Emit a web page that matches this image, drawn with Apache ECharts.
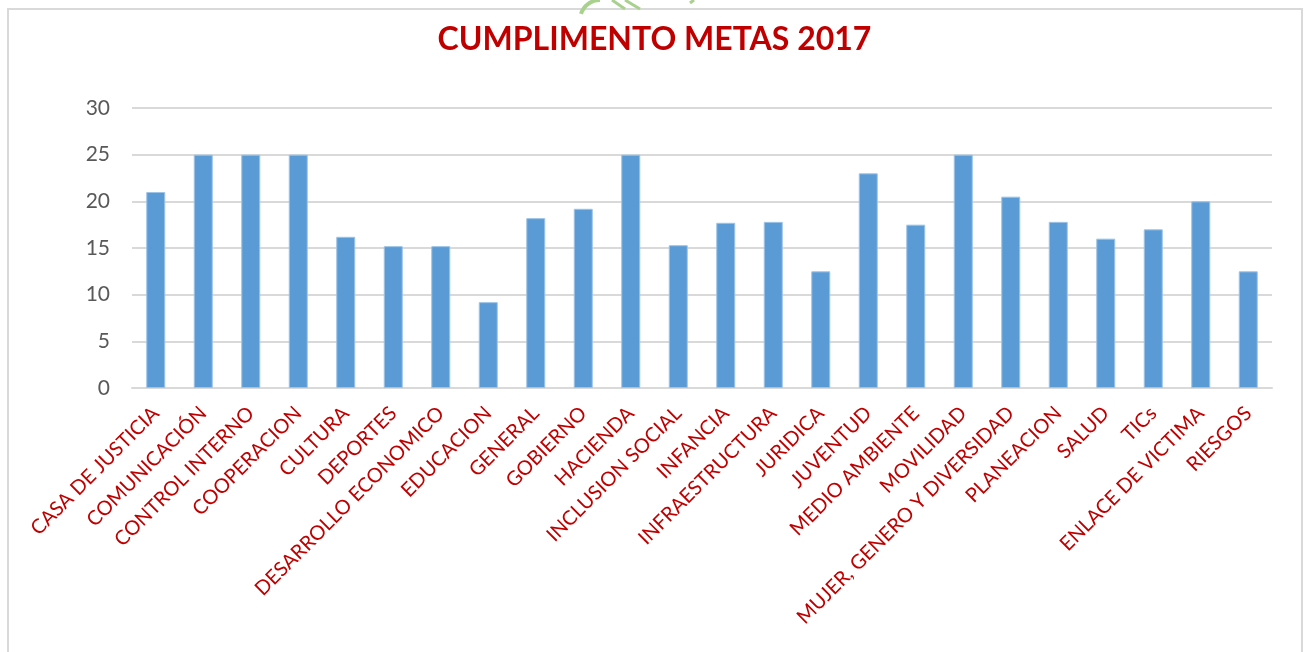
<!DOCTYPE html>
<html>
<head>
<meta charset="utf-8">
<script src="https://cdn.jsdelivr.net/npm/echarts@6/dist/echarts.min.js"></script>
<style>
html, body { margin: 0; padding: 0; background: #fff; }
#chart { width: 1309px; height: 652px; }
</style>
</head>
<body>
<div id="chart"></div>
<script>
var areas = ['CASA DE JUSTICIA', 'COMUNICACIÓN', 'CONTROL INTERNO', 'COOPERACION', 'CULTURA', 'DEPORTES',
    'DESARROLLO ECONOMICO', 'EDUCACION', 'GENERAL', 'GOBIERNO', 'HACIENDA', 'INCLUSION SOCIAL', 'INFANCIA',
    'INFRAESTRUCTURA', 'JURIDICA', 'JUVENTUD', 'MEDIO AMBIENTE', 'MOVILIDAD', 'MUJER, GENERO Y DIVERSIDAD',
    'PLANEACION', 'SALUD', 'TICs', 'ENLACE DE VICTIMA', 'RIESGOS'];
var cumplimiento = [21, 25, 25, 25, 16.2, 15.2, 15.2, 9.2, 18.2, 19.2, 25, 15.3, 17.7, 17.8, 12.5, 23, 17.5, 25,
    20.5, 17.8, 16, 17, 20, 12.5];
var yTicks = [0, 5, 10, 15, 20, 25, 30];

var font = "Lato, 'Open Sans', sans-serif";

// cumplimiento por dependencia
var metasOption = {
    title: {
        text: 'CUMPLIMENTO METAS 2017',
        left: 'center',
        top: 19,
        textStyle: {
            color: '#c00000',
            fontSize: 32,
            fontWeight: 'bold',
            fontFamily: font
        }
    },
    graphic: [
        { type: 'rect', shape: { x: 8, y: 9, width: 1294, height: 660 }, style: { fill: 'none', stroke: '#d9d9d9', lineWidth: 2 } },
        { type: 'arc', shape: { cx: 600, cy: 20, r: 20, startAngle: Math.PI * 1.1, endAngle: Math.PI * 1.5 }, style: { fill: 'none', stroke: '#a9d18e', lineWidth: 4 } },
        { type: 'line', shape: { x1: 612, y1: 0, x2: 625, y2: 9 }, style: { stroke: '#a9d18e', lineWidth: 3 } },
        { type: 'line', shape: { x1: 625, y1: 0, x2: 640, y2: 9 }, style: { stroke: '#a9d18e', lineWidth: 3 } },
        { type: 'line', shape: { x1: 690, y1: 3, x2: 694, y2: 0 }, style: { stroke: '#a9d18e', lineWidth: 3 } }
    ],
    grid: {
        left: 132,
        right: 37,
        top: 108,
        height: 280
    },
    xAxis: {
        type: 'category',
        data: areas,
        axisTick: { show: false },
        axisLine: { lineStyle: { color: '#d9d9d9', width: 2 } },
        axisLabel: {
            interval: 0,
            rotate: 45,
            margin: 22,
            color: '#c00000',
            fontSize: 20,
            fontFamily: font
        }
    },
    yAxis: {
        type: 'value',
        min: yTicks[0],
        max: yTicks[yTicks.length - 1],
        interval: 5,
        axisLine: { show: false },
        axisTick: { show: false },
        splitLine: { lineStyle: { color: '#d9d9d9', width: 2 } },
        axisLabel: {
            margin: 22,
            color: '#595959',
            fontSize: 21,
            fontFamily: font
        }
    },
    series: [{
        name: 'Cumplimiento',
        type: 'bar',
        barWidth: 19,
        data: cumplimiento,
        itemStyle: {
            color: '#5b9bd5',
            borderColor: '#9dc3e6',
            borderWidth: 1
        }
    }]
};
var metasChart = echarts.init(document.getElementById('chart'));
metasChart.setOption(metasOption);
</script>
</body>
</html>
